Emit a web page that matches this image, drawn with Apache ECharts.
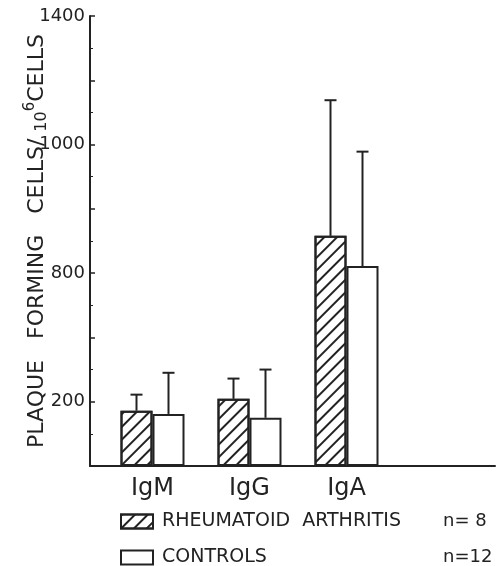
<!DOCTYPE html>
<html>
<head>
<meta charset="utf-8">
<script src="https://cdn.jsdelivr.net/npm/echarts@6/dist/echarts.min.js"></script>
<style>
html, body { margin: 0; padding: 0; background: #fff; }
#main { width: 499px; height: 566px; }
</style>
</head>
<body>
<div id="main"></div>
<script>
// data
var groups = ['IgM', 'IgG', 'IgA', ''];
var raMean = [172, 209, 716, null];
var raErr = [222, 272, 1138, null];
var ctrlMean = [162, 150, 622, null];
var ctrlErr = [290, 300, 978, null];
var seriesNames = ['RHEUMATOID  ARTHRITIS', 'CONTROLS'];
var seriesN = ['n= 8', 'n=12'];
// printed tick labels (value -> text as printed)
var tickValues = [200, 600, 1000, 1400];
var tickTexts = ['200', '800', '1000', '1400'];

var ink = '#222';
var font = 'DejaVu Sans';

//误差线
function errRender(side) {
	return function (params, api) {
		var top = api.coord([api.value(0), api.value(2)]);
		var base = api.coord([api.value(0), api.value(1)]);
		var x = top[0] + side * 16;
		return {
			type: 'group',
			children: [{
				type: 'line',
				shape: { x1: x, y1: base[1], x2: x, y2: top[1] },
				style: { stroke: ink, lineWidth: 2 }
			}, {
				type: 'line',
				shape: { x1: x - 6, y1: top[1], x2: x + 6, y2: top[1] },
				style: { stroke: ink, lineWidth: 2 }
			}]
		};
	};
}

function errData(mean, err) {
	var out = [];
	for (var i = 0; i < mean.length; i++) {
		if (mean[i] != null) out.push([i, mean[i], err[i]]);
	}
	return out;
}

var hatch = {
	symbol: 'rect',
	symbolSize: 1,
	color: ink,
	dashArrayX: [1, 0],
	dashArrayY: [2, 7],
	rotation: -Math.PI / 4
};

var myChart = echarts.init(document.getElementById('main'));
var option = {
	backgroundColor: '#fff',
	animation: false,
	grid: [
		{ left: 104, width: 388, top: 16, bottom: 100, outerBoundsMode: 'none' },
		{ left: 90, right: 4, top: 16, bottom: 100, outerBoundsMode: 'none' }
	],
	legend: {
		orient: 'vertical',
		left: 120,
		top: 512,
		height: 80,
		padding: 0,
		icon: 'rect',
		itemWidth: 32,
		itemHeight: 14,
		itemGap: 17,
		data: seriesNames,
		formatter: function (name) {
			var i = seriesNames.indexOf(name);
			return '{a|' + name + '}{b|' + seriesN[i] + '}';
		},
		textStyle: {
			padding: [0, 0, 0, 4],
			rich: {
				a: { fontFamily: font, fontSize: 19, color: ink, width: 281 },
				b: { fontFamily: font, fontSize: 18, color: ink }
			}
		}
	},
	xAxis: [{
		type: 'category',
		gridIndex: 0,
		data: groups,
		axisLine: { show: false },
		axisTick: { show: false },
		axisLabel: { fontFamily: font, fontSize: 24, color: ink, margin: 11 }
	}, {
		type: 'value',
		gridIndex: 1,
		min: 0,
		max: 1,
		axisLine: { show: true, lineStyle: { color: ink, width: 2 } },
		axisTick: { show: false },
		axisLabel: { show: false },
		splitLine: { show: false }
	}],
	yAxis: [{
		type: 'value',
		gridIndex: 0,
		min: 0,
		max: 1400,
		show: false
	}, {
		type: 'value',
		gridIndex: 1,
		min: 0,
		max: 1400,
		interval: 200,
		name: '{a|PLAQUE   FORMING   CELLS/ }{b|10}{s|6}{a|CELLS}',
		nameLocation: 'middle',
		nameGap: 38,
		nameMoveOverlap: false,
		nameTextStyle: {
			rich: {
				a: { fontFamily: font, fontSize: 22, color: ink },
				b: { fontFamily: font, fontSize: 16, color: ink, padding: [8, 0, 0, 0] },
				s: { fontFamily: font, fontSize: 15, color: ink, padding: [0, 0, 14, 0] }
			}
		},
		axisLine: { show: true, lineStyle: { color: ink, width: 2 } },
		axisTick: { show: true, inside: true, length: 5, lineStyle: { color: ink, width: 1.5 } },
		minorTick: { show: true, splitNumber: 2, length: 3, lineStyle: { color: ink } },
		splitLine: { show: false },
		axisLabel: {
			fontFamily: font,
			fontSize: 18,
			color: ink,
			margin: 5,
			formatter: function (v) {
				var i = tickValues.indexOf(v);
				return i < 0 ? '' : tickTexts[i];
			}
		}
	}],
	series: [{
		name: seriesNames[0],
		type: 'bar',
		xAxisIndex: 0,
		yAxisIndex: 0,
		barWidth: 32,
		barGap: 0,
		data: raMean,
		itemStyle: {
			color: '#fff',
			borderColor: ink,
			borderWidth: 2,
			decal: hatch
		}
	}, {
		name: seriesNames[1],
		type: 'bar',
		xAxisIndex: 0,
		yAxisIndex: 0,
		barWidth: 32,
		barGap: 0,
		data: ctrlMean,
		itemStyle: { color: '#fff', borderColor: ink, borderWidth: 2 }
	}, {
		type: 'custom',
		xAxisIndex: 0,
		yAxisIndex: 0,
		renderItem: errRender(-1),
		data: errData(raMean, raErr),
		z: 1
	}, {
		type: 'custom',
		xAxisIndex: 0,
		yAxisIndex: 0,
		renderItem: errRender(1),
		data: errData(ctrlMean, ctrlErr),
		z: 1
	}]
};
myChart.setOption(option);
window.onresize = function () {
	myChart.resize();
};
</script>
</body>
</html>
